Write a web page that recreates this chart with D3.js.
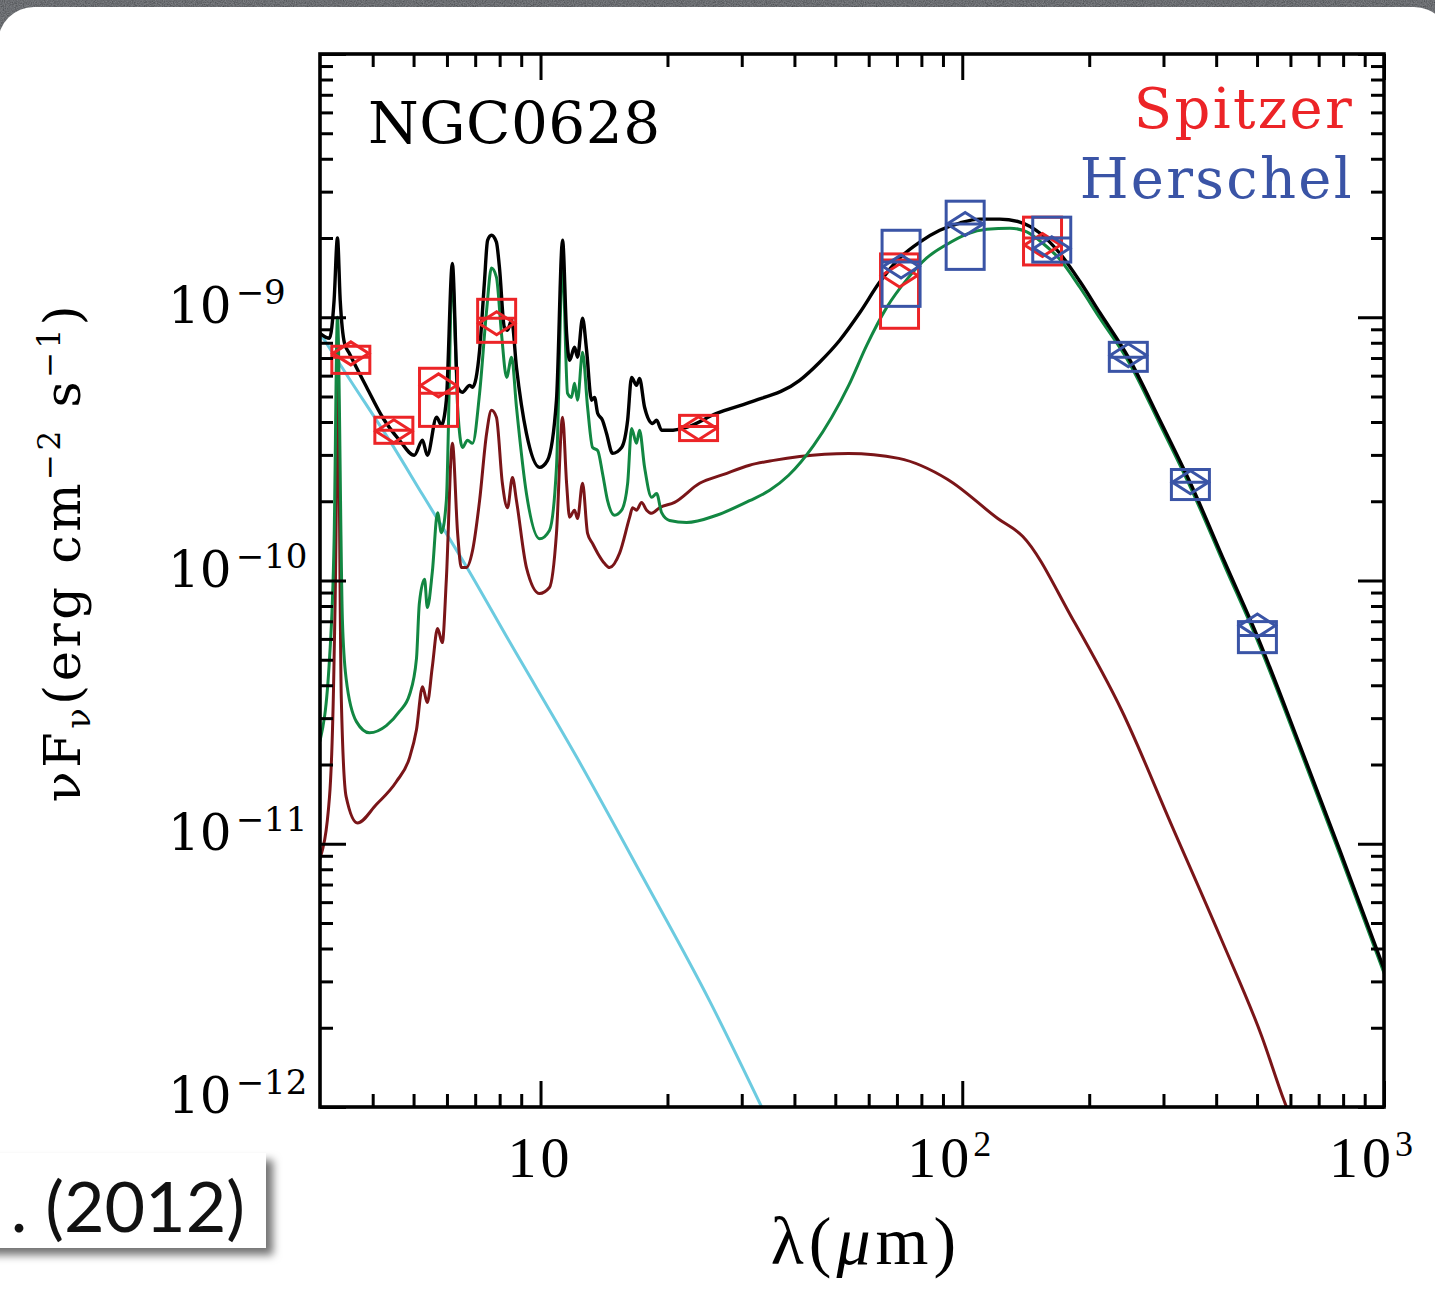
<!DOCTYPE html>
<html>
<head>
<meta charset="utf-8">
<script src="https://cdn.jsdelivr.net/npm/d3@7"></script>
<style>
  html, body { margin: 0; padding: 0; background: #3e4144; }
  svg { display: block; }
</style>
</head>
<body>
<svg id="chart" width="1435" height="1299"></svg>
<script>
// ---- SED of NGC0628: model components and photometry ----
// wavelength in micron, nu*F_nu in erg cm^-2 s^-1

const totalModel = [
  [3.00, 8.69e-10], [3.16, 8.32e-10], [3.24, 1.16e-9], [3.30, 2.00e-9], [3.35, 1.16e-9],
  [3.43, 7.96e-10], [3.52, 7.30e-10], [3.87, 5.42e-10], [4.22, 4.17e-10], [4.63, 3.41e-10],
  [5.02, 2.99e-10], [5.25, 3.41e-10], [5.39, 2.99e-10], [5.67, 4.17e-10], [5.82, 3.89e-10],
  [5.98, 4.84e-10], [6.18, 1.60e-9], [6.36, 5.42e-10], [6.53, 5.19e-10], [6.79, 5.51e-10],
  [6.90, 5.42e-10], [7.17, 7.49e-10], [7.36, 1.35e-9], [7.49, 1.96e-9], [7.65, 2.05e-9],
  [7.86, 1.93e-9], [7.99, 1.55e-9], [8.21, 9.16e-10], [8.35, 8.92e-10], [8.54, 9.74e-10],
  [8.77, 6.45e-10], [9.26, 3.62e-10], [9.95, 2.69e-10], [10.39, 2.86e-10], [10.91, 4.84e-10],
  [11.28, 1.96e-9], [11.53, 8.69e-10], [11.72, 6.86e-10], [12.04, 7.69e-10], [12.24, 7.05e-10],
  [12.58, 9.91e-10], [12.86, 7.49e-10], [13.21, 4.84e-10], [13.43, 4.96e-10], [13.66, 4.32e-10],
  [14.03, 4.06e-10], [14.34, 3.62e-10], [14.82, 3.04e-10], [15.57, 3.20e-10], [16.09, 4.06e-10],
  [16.44, 5.91e-10], [16.89, 5.51e-10], [17.17, 5.86e-10], [17.65, 4.55e-10], [18.44, 3.95e-10],
  [18.85, 4.06e-10], [19.37, 3.72e-10], [20.23, 3.72e-10], [22.20, 3.82e-10], [26.16, 4.32e-10],
  [31.31, 4.75e-10], [41.16, 5.76e-10], [45.90, 6.75e-10], [51.23, 8.18e-10], [57.13, 1.04e-9],
  [63.73, 1.36e-9], [71.08, 1.68e-9], [79.29, 1.93e-9], [88.45, 2.14e-9], [98.65, 2.28e-9],
  [110.0, 2.36e-9], [122.7, 2.36e-9], [136.9, 2.30e-9], [152.7, 2.09e-9], [170.3, 1.75e-9],
  [190.0, 1.37e-9], [212.0, 1.04e-9], [248.3, 6.99e-10], [294.2, 4.06e-10], [348.5, 2.32e-10],
  [419.6, 1.17e-10], [502.3, 6.07e-11], [632.0, 2.36e-11], [786.3, 9.41e-12], [1000, 3.35e-12]
];

const diffuseDust = [
  [3.00, 2.46e-11], [3.16, 5.05e-11], [3.24, 1.42e-10], [3.30, 1.00e-9], [3.39, 7.11e-11],
  [3.46, 4.24e-11], [3.66, 2.91e-11], [3.93, 2.64e-11], [4.31, 2.81e-11], [4.63, 3.18e-11],
  [4.89, 3.68e-11], [5.08, 5.05e-11], [5.16, 8.18e-11], [5.31, 1.01e-10], [5.39, 7.89e-11],
  [5.54, 1.08e-10], [5.70, 1.81e-10], [5.82, 1.52e-10], [5.98, 2.01e-10], [6.18, 1.44e-9],
  [6.36, 4.55e-10], [6.53, 3.20e-10], [6.71, 3.41e-10], [6.90, 3.32e-10], [7.17, 5.14e-10],
  [7.45, 1.06e-9], [7.65, 1.54e-9], [7.86, 1.42e-9], [8.08, 8.69e-10], [8.31, 5.91e-10],
  [8.54, 7.05e-10], [8.77, 4.55e-10], [9.26, 2.14e-10], [9.95, 1.44e-10], [10.50, 1.55e-10],
  [10.91, 2.69e-10], [11.28, 1.58e-9], [11.59, 5.14e-10], [11.84, 4.96e-10], [12.04, 5.61e-10],
  [12.24, 4.84e-10], [12.58, 7.36e-10], [12.93, 4.55e-10], [13.29, 3.20e-10], [13.66, 3.12e-10],
  [14.03, 2.55e-10], [14.42, 2.01e-10], [14.98, 1.77e-10], [15.57, 1.85e-10], [16.09, 2.34e-10],
  [16.44, 3.78e-10], [16.89, 3.32e-10], [17.17, 3.72e-10], [17.65, 2.69e-10], [18.34, 2.07e-10],
  [18.85, 2.14e-10], [19.37, 1.81e-10], [20.23, 1.69e-10], [22.20, 1.66e-10], [26.16, 1.77e-10],
  [31.31, 2.01e-10], [34.94, 2.20e-10], [38.76, 2.51e-10], [44.43, 3.26e-10], [53.80, 5.51e-10],
  [59.35, 7.82e-10], [66.21, 1.09e-9], [73.85, 1.39e-9], [82.37, 1.68e-9], [91.88, 1.89e-9],
  [102.5, 2.07e-9], [114.3, 2.16e-9], [129.7, 2.18e-9], [142.2, 2.11e-9], [155.2, 1.91e-9],
  [170.3, 1.66e-9], [190.0, 1.30e-9], [212.0, 9.91e-10], [248.3, 6.75e-10], [294.2, 3.92e-10],
  [348.5, 2.24e-10], [419.6, 1.13e-10], [502.3, 5.86e-11], [632.0, 2.28e-11], [786.3, 9.08e-12],
  [1000, 3.23e-12]
];

const pdrDust = [
  [3.00, 8.77e-12], [3.16, 1.51e-11], [3.24, 5.05e-11], [3.28, 2.01e-10], [3.30, 8.54e-10],
  [3.37, 3.56e-11], [3.46, 1.51e-11], [3.68, 1.20e-11], [4.08, 1.41e-11], [4.55, 1.72e-11],
  [4.89, 2.12e-11], [5.08, 2.71e-11], [5.25, 3.95e-11], [5.39, 3.44e-11], [5.54, 4.71e-11],
  [5.70, 6.57e-11], [5.85, 5.81e-11], [5.98, 1.01e-10], [6.18, 3.32e-10], [6.36, 1.51e-10],
  [6.49, 1.12e-10], [6.67, 1.12e-10], [6.90, 1.30e-10], [7.17, 2.01e-10], [7.45, 3.62e-10],
  [7.65, 4.43e-10], [7.86, 4.17e-10], [8.12, 2.34e-10], [8.35, 1.89e-10], [8.58, 2.46e-10],
  [8.77, 2.01e-10], [9.26, 1.12e-10], [9.95, 8.92e-11], [10.50, 9.40e-11], [10.91, 1.51e-10],
  [11.28, 4.17e-10], [11.53, 2.34e-10], [11.72, 1.74e-10], [12.04, 1.85e-10], [12.24, 1.72e-10],
  [12.58, 2.34e-10], [12.93, 1.51e-10], [13.29, 1.38e-10], [13.66, 1.27e-10], [14.19, 1.16e-10],
  [14.58, 1.12e-10], [15.40, 1.27e-10], [16.27, 1.74e-10], [16.53, 1.89e-10], [16.89, 1.85e-10],
  [17.36, 1.98e-10], [17.85, 1.85e-10], [18.34, 1.80e-10], [19.16, 1.89e-10], [20.79, 1.98e-10],
  [23.84, 2.34e-10], [27.19, 2.53e-10], [31.31, 2.74e-10], [35.71, 2.86e-10], [41.16, 2.96e-10],
  [53.80, 3.04e-10], [70.69, 2.91e-10], [92.38, 2.42e-10], [121.4, 1.72e-10], [139.2, 1.47e-10],
  [182.9, 7.11e-11], [239.0, 3.20e-11], [314.1, 1.17e-11], [412.8, 4.28e-12], [513.4, 1.85e-12],
  [579.1, 1.06e-12], [598.4, 9.24e-13]
];

const starlight = [
  [3.00, 8.69e-10], [3.52, 5.84e-10], [4.46, 3.26e-10], [5.25, 2.12e-10], [6.67, 1.13e-10],
  [8.44, 5.86e-11], [12.17, 2.14e-11], [17.46, 7.49e-12], [25.17, 2.53e-12], [33.44, 1.00e-12]
];

// Spitzer photometry (IRAC 3.6-8, MIPS 24-160)
const spitzerBand  = [3.55, 4.49, 5.73, 7.87, 23.7, 71.0, 155.0];
const spitzerObs   = [7.29e-10, 3.69e-10, 5.51e-10, 9.49e-10, 3.79e-10, 1.44e-9, 1.88e-9];
const spitzerLo    = [6.12e-10, 3.32e-10, 3.85e-10, 8.03e-10, 3.40e-10, 9.08e-10, 1.58e-9];
const spitzerHi    = [7.76e-10, 4.17e-10, 6.40e-10, 1.17e-9, 4.24e-10, 1.74e-9, 2.40e-9];
const spitzerModel = [7.05e-10, 3.72e-10, 5.14e-10, 9.91e-10, 3.85e-10, 1.65e-9, 2.00e-9];

// Herschel photometry (PACS 70-160, SPIRE 250-500)
const herschelBand  = [71.6, 101.6, 163.0, 247.6, 347.5, 501.0];
const herschelObs   = [1.56e-9, 2.26e-9, 1.83e-9, 7.17e-10, 2.36e-10, 6.74e-11];
const herschelLo    = [1.10e-9, 1.52e-9, 1.62e-9, 6.23e-10, 2.03e-10, 5.32e-11];
const herschelHi    = [2.14e-9, 2.76e-9, 2.40e-9, 8.03e-10, 2.64e-10, 6.98e-11];
const herschelModel = [1.62e-9, 2.26e-9, 2.00e-9, 7.05e-10, 2.36e-10, 6.18e-11];

// axis ticks and labels
const xMajorTicks = [10, 100, 1000];
const xMinorTicks = [4, 5, 6, 7, 8, 9, 20, 30, 40, 50, 60, 70, 80, 90,
                     200, 300, 400, 500, 600, 700, 800, 900];
const xTickLabels = [["10", ""], ["10", "2"], ["10", "3"]];
const yMajorTicks = [1e-12, 1e-11, 1e-10, 1e-9, 1e-8];
const yMinorTicks = [];
[-12, -11, -10, -9].forEach(p => { for (let m = 2; m <= 9; m++) yMinorTicks.push(m * Math.pow(10, p)); });
const yLabelTicks = [1e-12, 1e-11, 1e-10, 1e-9];
const yTickLabels = [["10", "\u221212"], ["10", "\u221211"], ["10", "\u221210"], ["10", "\u22129"]];

// ---- drawing ----
const svg = d3.select("#chart");
const W = 1435, H = 1299;
const plot = { left: 320, right: 1384, top: 54, bottom: 1107 };

const x = d3.scaleLog().domain([3, 1000]).range([plot.left, plot.right]);
const y = d3.scaleLog().domain([1e-12, 1e-8]).range([plot.bottom, plot.top]);

const defs = svg.append("defs");
const noise = defs.append("filter").attr("id", "slate").attr("x", 0).attr("y", 0).attr("width", 1).attr("height", 1);
noise.append("feTurbulence").attr("type", "fractalNoise").attr("baseFrequency", 0.9).attr("numOctaves", 2).attr("result", "n");
noise.append("feColorMatrix").attr("in", "n").attr("type", "matrix")
  .attr("values", "0 0 0 0 0.27  0 0 0 0 0.28  0 0 0 0 0.30  0 0 0 0.9 0").attr("result", "c");
noise.append("feComposite").attr("in", "c").attr("in2", "SourceGraphic").attr("operator", "over");

const shadow = defs.append("filter").attr("id", "shadow").attr("x", -0.2).attr("y", -0.2).attr("width", 1.4).attr("height", 1.5);
shadow.append("feDropShadow").attr("dx", 7).attr("dy", 7).attr("stdDeviation", 4)
  .attr("flood-color", "#000").attr("flood-opacity", 0.55);

defs.append("clipPath").attr("id", "plotclip").append("rect")
  .attr("x", plot.left).attr("y", plot.top)
  .attr("width", plot.right - plot.left).attr("height", plot.bottom - plot.top);

// slide background and white panel
svg.append("rect").attr("width", W).attr("height", H).attr("fill", "#3c3f42").attr("filter", "url(#slate)");
svg.append("rect").attr("x", -2).attr("y", 7).attr("width", 1452).attr("height", 1318)
  .attr("rx", 36).attr("fill", "#ffffff");

// model curves
const line = d3.line().x(d => x(d[0])).y(d => y(d[1])).curve(d3.curveMonotoneX);
const curves = svg.append("g").attr("clip-path", "url(#plotclip)").attr("fill", "none")
  .attr("stroke-linejoin", "round").attr("stroke-linecap", "round");
curves.append("path").datum(starlight).attr("d", line).attr("stroke", "#6ccbe0").attr("stroke-width", 3);
curves.append("path").datum(pdrDust).attr("d", line).attr("stroke", "#7a1518").attr("stroke-width", 3);
curves.append("path").datum(diffuseDust).attr("d", line).attr("stroke", "#128742").attr("stroke-width", 3);
curves.append("path").datum(totalModel).attr("d", line).attr("stroke", "#000000").attr("stroke-width", 3.4);

// photometry markers: uncertainty box, model band value, observed diamond
function drawMarkers(band, obs, lo, hi, model, color) {
  const g = svg.append("g").attr("fill", "none").attr("stroke", color).attr("stroke-width", 3);
  const rows = band.map((b, i) => ({ b, o: obs[i], lo: lo[i], hi: hi[i], m: model[i] }));
  const bw = 19, dw = 18, dh = 11.5;
  g.selectAll("rect").data(rows).join("rect")
    .attr("x", d => x(d.b) - bw).attr("width", 2 * bw)
    .attr("y", d => y(d.hi)).attr("height", d => y(d.lo) - y(d.hi));
  g.selectAll("line").data(rows).join("line")
    .attr("x1", d => x(d.b) - bw).attr("x2", d => x(d.b) + bw)
    .attr("y1", d => y(d.m)).attr("y2", d => y(d.m));
  g.selectAll("path").data(rows).join("path")
    .attr("d", d => {
      const cx = x(d.b), cy = y(d.o);
      return `M${cx - dw},${cy}L${cx},${cy - dh}L${cx + dw},${cy}L${cx},${cy + dh}Z`;
    });
}
drawMarkers(spitzerBand, spitzerObs, spitzerLo, spitzerHi, spitzerModel, "#ec2427");
drawMarkers(herschelBand, herschelObs, herschelLo, herschelHi, herschelModel, "#3a54a6");

// axes: ticks point inward on all four sides
const axG = svg.append("g").attr("class", "axes");
const sides = [
  [() => d3.axisBottom(x), `translate(0,${plot.bottom})`, xMajorTicks, xMinorTicks],
  [() => d3.axisTop(x), `translate(0,${plot.top})`, xMajorTicks, xMinorTicks],
  [() => d3.axisLeft(y), `translate(${plot.left},0)`, yMajorTicks, yMinorTicks],
  [() => d3.axisRight(y), `translate(${plot.right},0)`, yMajorTicks, yMinorTicks]
];
sides.forEach(([make, tr, maj, min]) => {
  [[maj, -26], [min, -13]].forEach(([vals, size]) => {
    const g = axG.append("g").attr("transform", tr)
      .call(make().tickValues(vals).tickSize(size).tickSizeOuter(0).tickFormat(""));
    g.select(".domain").remove();
    g.selectAll("line").attr("stroke", "#000").attr("stroke-width", 3);
  });
});
axG.append("rect").attr("x", plot.left).attr("y", plot.top)
  .attr("width", plot.right - plot.left).attr("height", plot.bottom - plot.top)
  .attr("fill", "none").attr("stroke", "#000").attr("stroke-width", 3.6);

// x tick labels
const xl = svg.append("g").attr("font-family", "'Liberation Serif', serif").attr("fill", "#000");
xMajorTicks.forEach((v, i) => {
  const [base, sup] = xTickLabels[i];
  const t = xl.append("text").attr("x", x(v) - (sup ? 13 : 0)).attr("y", 1177)
    .attr("text-anchor", "middle").attr("font-size", 58).attr("letter-spacing", 4);
  t.append("tspan").text(base);
  if (sup) t.append("tspan").attr("font-size", 36).attr("dy", -21).attr("letter-spacing", 0).text(sup);
});

// y tick labels
const yl = svg.append("g").attr("font-family", "'DejaVu Serif', serif").attr("fill", "#000");
yLabelTicks.forEach((v, i) => {
  const [base, sup] = yTickLabels[i];
  const t = yl.append("text").attr("x", 168).attr("y", y(v) + 6).attr("font-size", 50);
  t.append("tspan").text(base);
  t.append("tspan").attr("font-size", 34).attr("dx", 4).attr("dy", -19).text(sup);
});

// axis titles
const xt = svg.append("text").attr("x", 866).attr("y", 1264).attr("text-anchor", "middle")
  .attr("font-family", "'Liberation Serif', serif").attr("font-size", 68)
  .attr("letter-spacing", 5).attr("fill", "#000");
xt.append("tspan").text("\u03bb(");
xt.append("tspan").attr("font-style", "italic").text("\u03bc");
xt.append("tspan").text("m)");

const serifMono = "'DejaVu Serif', serif";
const yt = svg.append("text").attr("transform", "translate(80,552) rotate(-90)")
  .attr("text-anchor", "middle").attr("font-family", serifMono)
  .attr("font-size", 51).attr("letter-spacing", 3.5).attr("fill", "#000");
yt.append("tspan").text("\u03bdF");
yt.append("tspan").attr("font-size", 34).attr("dy", 10).text("\u03bd");
yt.append("tspan").attr("dy", -10).text("(erg cm");
yt.append("tspan").attr("font-size", 31).attr("dy", -20).text("\u22122");
yt.append("tspan").attr("dy", 20).text(" s");
yt.append("tspan").attr("font-size", 31).attr("dy", -20).text("\u22121");
yt.append("tspan").attr("dy", 20).text(")");

// object name and legend
svg.append("text").attr("x", 368).attr("y", 143).attr("font-family", serifMono)
  .attr("font-size", 58).attr("letter-spacing", 0.5).attr("fill", "#000").text("NGC0628");
svg.append("text").attr("x", 1354).attr("y", 128).attr("text-anchor", "end").attr("font-family", serifMono)
  .attr("font-size", 56).attr("letter-spacing", 2.3).attr("fill", "#ec2427").text("Spitzer");
svg.append("text").attr("x", 1354).attr("y", 198).attr("text-anchor", "end").attr("font-family", serifMono)
  .attr("font-size", 56).attr("letter-spacing", 2.3).attr("fill", "#3a54a6").text("Herschel");

// citation tag
svg.append("rect").attr("x", -20).attr("y", 1153).attr("width", 286).attr("height", 95)
  .attr("fill", "#fff").attr("filter", "url(#shadow)");
svg.append("text").attr("x", 245).attr("y", 1232).attr("text-anchor", "end")
  .attr("font-family", "Lato, sans-serif").attr("font-size", 70).attr("fill", "#111")
  .text(". (2012)");
</script>
</body>
</html>
